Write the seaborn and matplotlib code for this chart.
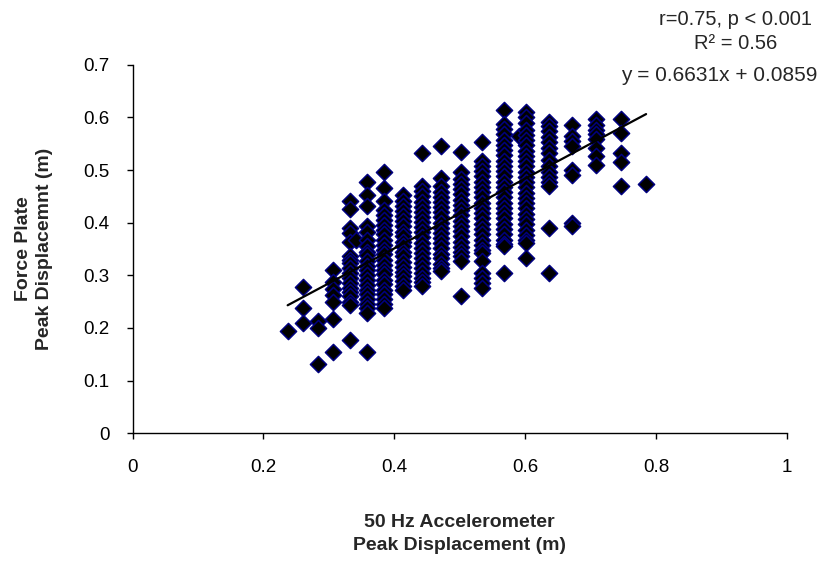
import matplotlib
matplotlib.use("Agg")
import matplotlib.pyplot as plt
import seaborn as sns
import pandas as pd

# Accelerometer peak displacement (m): one value per column of jumps
acc_x = [0.237, 0.260, 0.283, 0.307, 0.332, 0.342, 0.358, 0.385, 0.413,
         0.442, 0.471, 0.502, 0.534, 0.567, 0.590, 0.601, 0.636, 0.672,
         0.708, 0.746, 0.785]

# Force plate peak displacement (m) for each accelerometer column
fp_y = [
    [0.195],
    [0.278, 0.238, 0.209],
    [0.214, 0.200, 0.131],
    [0.311, 0.288, 0.274, 0.262, 0.250, 0.217, 0.155],
    [0.442, 0.426, 0.390, 0.380, 0.364, 0.336, 0.330, 0.323, 0.314, 0.305,
     0.295, 0.285, 0.276, 0.269, 0.260, 0.250, 0.244, 0.177],
    [0.367],
    [0.477, 0.453, 0.432, 0.393, 0.383, 0.368, 0.355, 0.345, 0.338, 0.328,
     0.318, 0.310, 0.300, 0.292, 0.282, 0.272, 0.264, 0.255, 0.246, 0.238,
     0.228, 0.155],
    [0.497, 0.466, 0.441, 0.425, 0.415, 0.405, 0.396, 0.387, 0.378, 0.368,
     0.358, 0.349, 0.340, 0.330, 0.320, 0.311, 0.302, 0.292, 0.283, 0.273,
     0.264, 0.255, 0.246, 0.237],
    [0.452, 0.442, 0.432, 0.422, 0.412, 0.403, 0.393, 0.383, 0.374, 0.364,
     0.355, 0.345, 0.336, 0.326, 0.316, 0.307, 0.298, 0.289, 0.280, 0.272],
    [0.532, 0.469, 0.460, 0.450, 0.440, 0.430, 0.420, 0.411, 0.401, 0.391,
     0.382, 0.372, 0.362, 0.352, 0.343, 0.333, 0.323, 0.313, 0.304, 0.294,
     0.287, 0.280],
    [0.545, 0.485, 0.469, 0.459, 0.449, 0.440, 0.430, 0.420, 0.410, 0.400,
     0.390, 0.381, 0.371, 0.361, 0.351, 0.341, 0.332, 0.322, 0.314, 0.308],
    [0.535, 0.496, 0.484, 0.474, 0.464, 0.454, 0.444, 0.434, 0.424, 0.414,
     0.404, 0.394, 0.384, 0.374, 0.364, 0.354, 0.344, 0.336, 0.328, 0.260],
    [0.554, 0.518, 0.508, 0.498, 0.488, 0.478, 0.468, 0.458, 0.448, 0.438,
     0.428, 0.418, 0.408, 0.398, 0.388, 0.378, 0.368, 0.358, 0.349, 0.342,
     0.327, 0.304, 0.295, 0.285, 0.276],
    [0.615, 0.588, 0.578, 0.568, 0.558, 0.548, 0.538, 0.528, 0.518, 0.508,
     0.498, 0.488, 0.478, 0.468, 0.458, 0.448, 0.438, 0.428, 0.418, 0.408,
     0.398, 0.388, 0.378, 0.368, 0.360, 0.355, 0.304],
    [0.564],
    [0.610, 0.600, 0.590, 0.577, 0.567, 0.557, 0.547, 0.537, 0.527, 0.517,
     0.507, 0.497, 0.487, 0.477, 0.467, 0.457, 0.447, 0.437, 0.427, 0.417,
     0.407, 0.397, 0.387, 0.377, 0.368, 0.361, 0.333],
    [0.592, 0.584, 0.574, 0.563, 0.553, 0.542, 0.532, 0.520, 0.508, 0.497,
     0.486, 0.477, 0.469, 0.390, 0.304],
    [0.586, 0.564, 0.555, 0.546, 0.500, 0.490, 0.400, 0.393],
    [0.597, 0.585, 0.576, 0.568, 0.560, 0.542, 0.526, 0.510],
    [0.597, 0.570, 0.532, 0.516, 0.470],
    [0.473],
]

# Least-squares line reported on the chart
slope = 0.6631
intercept = 0.0859
r_text = "r=0.75, p < 0.001"
r2_text = "R\u00b2 = 0.56"

rows = [(x, y) for x, ys in zip(acc_x, fp_y) for y in ys]
df = pd.DataFrame(rows, columns=["acc", "fp"])

sns.set_style("white")
plt.rcParams["font.family"] = ["Liberation Sans", "DejaVu Sans"]

fig = plt.figure(figsize=(8.29, 5.64), dpi=100)
ax = fig.add_axes([0.160, 0.232, 0.789, 0.653])

sns.scatterplot(data=df, x="acc", y="fp", marker="D", s=68,
                color="black", edgecolor="#000080", linewidth=1.1,
                ax=ax, legend=False, zorder=3)

x_lo, x_hi = min(acc_x), max(acc_x)
ax.plot([x_lo, x_hi], [slope * x_lo + intercept, slope * x_hi + intercept],
        color="black", linewidth=1.6, zorder=4)

ax.set_xlim(0, 1)
ax.set_ylim(0, 0.7)
ax.set_xticks([0, 0.2, 0.4, 0.6, 0.8, 1])
ax.set_xticklabels(["0", "0.2", "0.4", "0.6", "0.8", "1"])
ax.set_yticks([0, 0.1, 0.2, 0.3, 0.4, 0.5, 0.6, 0.7])
ax.set_yticklabels(["0", "0.1", "0.2", "0.3", "0.4", "0.5", "0.6", "0.7"])

for side in ("top", "right"):
    ax.spines[side].set_visible(False)
for side in ("left", "bottom"):
    ax.spines[side].set_color("black")
    ax.spines[side].set_linewidth(1.0)

ax.tick_params(axis="both", direction="out", length=4.5, width=1.0,
               colors="black", labelsize=13.5, left=True, bottom=True)
ax.tick_params(axis="x", pad=14)
ax.tick_params(axis="y", pad=12)

ax.set_xlabel("50 Hz Accelerometer\nPeak Displacement (m)",
              fontsize=14, fontweight="bold", linespacing=1.45)
ax.set_ylabel("Force Plate\nPeak Displacemnt (m)",
              fontsize=14, fontweight="bold", linespacing=1.3)
ax.xaxis.set_label_coords(0.5, -0.22)
ax.yaxis.set_label_coords(-0.122, 0.5)

fig.text(0.887, 0.944, r_text + "\n" + r2_text, ha="center", va="center",
         fontsize=14.5, linespacing=1.3, multialignment="center")
fig.text(0.986, 0.867, f"y = {slope:.4f}x + {intercept:.4f}", ha="right",
         va="center", fontsize=15)

fig.savefig("out.png", dpi=100)
